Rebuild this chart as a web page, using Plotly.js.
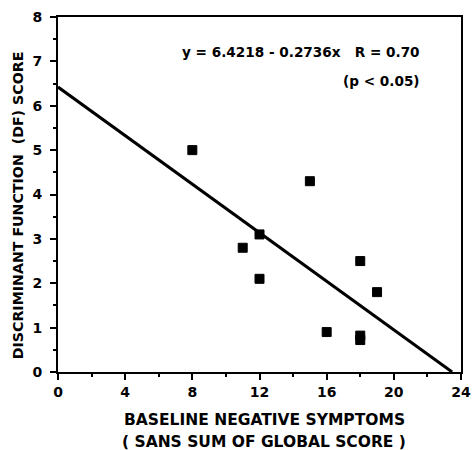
<!DOCTYPE html>
<html>
<head>
<meta charset="utf-8">
<script src="https://cdn.plot.ly/plotly-3.0.1.min.js"></script>
<style>html,body{margin:0;padding:0;background:#fff;}#chart{width:473px;height:450px;}</style>
</head>
<body>
<div id="chart"></div>
<script>
const negSymptoms = [8, 15, 11, 12, 12, 18, 19, 16, 18, 18];
const dfScore     = [5.0, 4.3, 2.8, 3.1, 2.1, 2.5, 1.8, 0.9, 0.82, 0.72];
const intercept = 6.4218;
const slope = -0.2736;
const fitX = [0, -intercept / slope];
const fitY = fitX.map(x => intercept + slope * x);
const xTicks = [0, 4, 8, 12, 16, 20, 24];
const yTicks = [0, 1, 2, 3, 4, 5, 6, 7, 8];
const eqText = "y = 6.4218 - 0.2736x   R = 0.70";
const pText = "(p < 0.05)";
const xTitle = ["BASELINE NEGATIVE SYMPTOMS", "( SANS SUM OF GLOBAL SCORE )"];
const yTitle = "DISCRIMINANT FUNCTION  (DF) SCORE";

const fam = "DejaVu Sans";
const b = s => "<b>" + s + "</b>";
const bf = size => ({family: fam, size: size, color: "#000", weight: "bold"});

const traces = [
  {x: fitX, y: fitY, mode: "lines", line: {color: "#000", width: 3}, hoverinfo: "skip"},
  {x: negSymptoms, y: dfScore, mode: "markers", marker: {symbol: "square", size: 9, color: "#000", line: {color: "#000", width: 1}}}
];

const layout = {
  width: 473, height: 450,
  margin: {l: 58, r: 12, t: 17, b: 78},
  paper_bgcolor: "#fff", plot_bgcolor: "#fff",
  showlegend: false,
  font: bf(14),
  xaxis: {
    range: [0, 24], tickvals: xTicks, ticktext: xTicks.map(v => b(v)),
    ticks: "outside", ticklen: 6, tickwidth: 2, tickcolor: "#000",
    minor: {dtick: 2, tick0: 0, ticks: "outside", ticklen: 3, tickwidth: 2, tickcolor: "#000"},
    showline: true, linecolor: "#000", linewidth: 2, mirror: true,
    showgrid: false, zeroline: false,
    tickfont: bf(14)
  },
  yaxis: {
    range: [0, 8], tickvals: yTicks, ticktext: yTicks.map(v => b(v) + " "),
    ticks: "outside", ticklen: 6, tickwidth: 2, tickcolor: "#000",
    minor: {dtick: 0.5, tick0: 0, ticks: "outside", ticklen: 3, tickwidth: 2, tickcolor: "#000"},
    showline: true, linecolor: "#000", linewidth: 2, mirror: true,
    showgrid: false, zeroline: false,
    tickfont: bf(14)
  },
  annotations: [
    {xref: "paper", yref: "paper", x: 0.903, y: 0.901, xanchor: "right", yanchor: "middle", text: b(eqText.replace(/ {3}/, "&nbsp;&nbsp; ")), showarrow: false, font: bf(13.6)},
    {xref: "paper", yref: "paper", x: 0.903, y: 0.82, xanchor: "right", yanchor: "middle", text: b(pText.replace("<", "&lt;")), showarrow: false, font: bf(13.6)},
    {xref: "paper", yref: "paper", x: 0.512, y: -0.135, xanchor: "center", yanchor: "middle", text: b(xTitle[0]), showarrow: false, font: bf(15.5)},
    {xref: "paper", yref: "paper", x: 0.512, y: -0.197, xanchor: "center", yanchor: "middle", text: b(xTitle[1]), showarrow: false, font: bf(15.5)},
    {xref: "paper", yref: "paper", x: -0.099, y: 0.47, xanchor: "center", yanchor: "middle", textangle: -90, text: b(yTitle), showarrow: false, font: bf(14.2)}
  ]
};

Plotly.newPlot("chart", traces, layout, {displayModeBar: false, staticPlot: true});
</script>
</body>
</html>
